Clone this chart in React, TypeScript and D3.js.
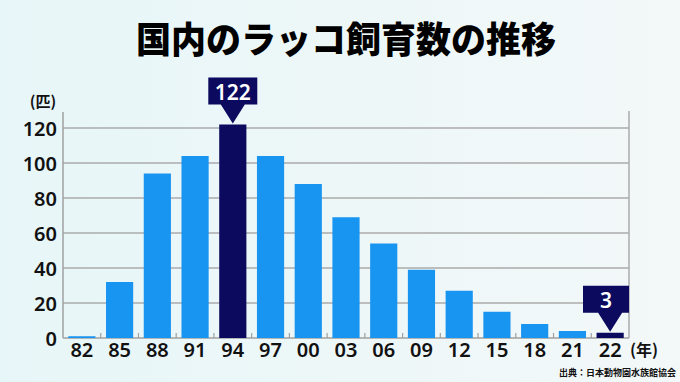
import React from "react";
import * as d3 from "d3";

const years = ["82", "85", "88", "91", "94", "97", "00", "03", "06", "09", "12", "15", "18", "21", "22"];
const counts = [1, 32, 94, 104, 122, 104, 88, 69, 54, 39, 27, 15, 8, 4, 3];
const highlighted = ["94", "22"];
const yTicks = [0, 20, 40, 60, 80, 100, 120];
const title = "国内のラッコ飼育数の推移";
const yUnit = "(匹)";
const xUnit = "(年)";
const source = "出典：日本動物園水族館協会";

const W = 680;
const H = 382;
const left = 63;
const right = 629;
const top = 112;
const base = 338;

export default function App() {
  const x = d3.scaleBand<string>().domain(years).range([left, right]).paddingInner(0.28).paddingOuter(0.14);
  const y = d3.scaleLinear().domain([0, 120]).range([base, 128]);
  const step = x.step();
  const bw = x.bandwidth();
  const numFont = "'Noto Sans', 'DejaVu Sans', sans-serif";
  const cjkFont = "'Noto Sans CJK JP', 'Noto Sans', sans-serif";

  return (
    <svg width={W} height={H} style={{ position: "fixed", left: 0, top: 0, display: "block" }}>
      <defs>
        <linearGradient id="bg" x1="0" y1="0" x2="1" y2="0">
          <stop offset="0" stopColor="#E7F6F8" />
          <stop offset="1" stopColor="#F3F8F8" />
        </linearGradient>
      </defs>
      <rect x={0} y={0} width={W} height={H} fill="url(#bg)" />
      <text x={346} y={37} textAnchor="middle" dominantBaseline="central" fontFamily={cjkFont} fontWeight={900} fontSize={35} fill="#000" transform="translate(346,37) scale(1,1.05) translate(-346,-37)">
        {title}
      </text>

      {/* grid */}
      {yTicks.filter((t) => t > 0).map((t) => (
        <line key={t} x1={left} x2={right} y1={y(t)} y2={y(t)} stroke="#ABABAB" strokeWidth={1.5} />
      ))}
      <line x1={left} x2={left} y1={top} y2={base} stroke="#A0A0A0" strokeWidth={1.5} />
      <line x1={right} x2={right} y1={111} y2={base} stroke="#ABABAB" strokeWidth={1.5} />
      <line x1={left} x2={right} y1={base} y2={base} stroke="#A0A0A0" strokeWidth={1.5} />
      {years.slice(1).map((yr, i) => {
        const bx = left + step * (i + 1);
        return <line key={yr} x1={bx} x2={bx} y1={base} y2={base - 5} stroke="#A0A0A0" strokeWidth={1.2} />;
      })}

      {/* bars */}
      {years.map((yr, i) => (
        <rect
          key={yr}
          x={x(yr)}
          y={y(counts[i])}
          width={bw}
          height={base - y(counts[i])}
          fill={highlighted.includes(yr) ? "#0B0A5E" : "#1894F1"}
        />
      ))}

      {/* y labels */}
      {yTicks.map((t) => (
        <text key={t} x={57} y={y(t)} textAnchor="end" dominantBaseline="central" fontFamily={numFont} fontWeight={600} fontSize={20} fill="#111">
          {t}
        </text>
      ))}
      <text x={43} y={107} textAnchor="middle" fontFamily={cjkFont} fontWeight={700} fontSize={15} fill="#111">
        {yUnit}
      </text>

      {/* x labels */}
      {years.map((yr) => (
        <text key={yr} x={(x(yr) as number) + bw / 2} y={357} textAnchor="middle" fontFamily={numFont} fontWeight={600} fontSize={20} fill="#111">
          {yr}
        </text>
      ))}
      <text x={644} y={356} textAnchor="middle" fontFamily={cjkFont} fontWeight={700} fontSize={16} fill="#111">
        {xUnit}
      </text>

      {/* callouts */}
      {years.map((yr, i) => {
        if (!highlighted.includes(yr)) return null;
        const cx = (x(yr) as number) + bw / 2;
        const tipY = y(counts[i]) - 1;
        const label = String(counts[i]);
        const boxW = label.length > 1 ? 49 : 46;
        const boxH = 27;
        const boxBottom = tipY - 19;
        let bx0 = cx - boxW / 2;
        if (bx0 + boxW > right) bx0 = right - boxW;
        const half = 12;
        const path = `M${bx0},${boxBottom - boxH} H${bx0 + boxW} V${boxBottom} H${cx + half} L${cx},${tipY} L${cx - half},${boxBottom} H${bx0} Z`;
        return (
          <g key={"c" + yr}>
            <path d={path} fill="#0B0A5E" />
            <text x={bx0 + boxW / 2} y={boxBottom - boxH / 2 + 1} textAnchor="middle" dominantBaseline="central" fontFamily={numFont} fontWeight={600} fontSize={21} fill="#fff">
              {label}
            </text>
          </g>
        );
      })}

      <text x={676} y={376} textAnchor="end" fontFamily={cjkFont} fontWeight={700} fontSize={9} fill="#111">
        {source}
      </text>
    </svg>
  );
}
